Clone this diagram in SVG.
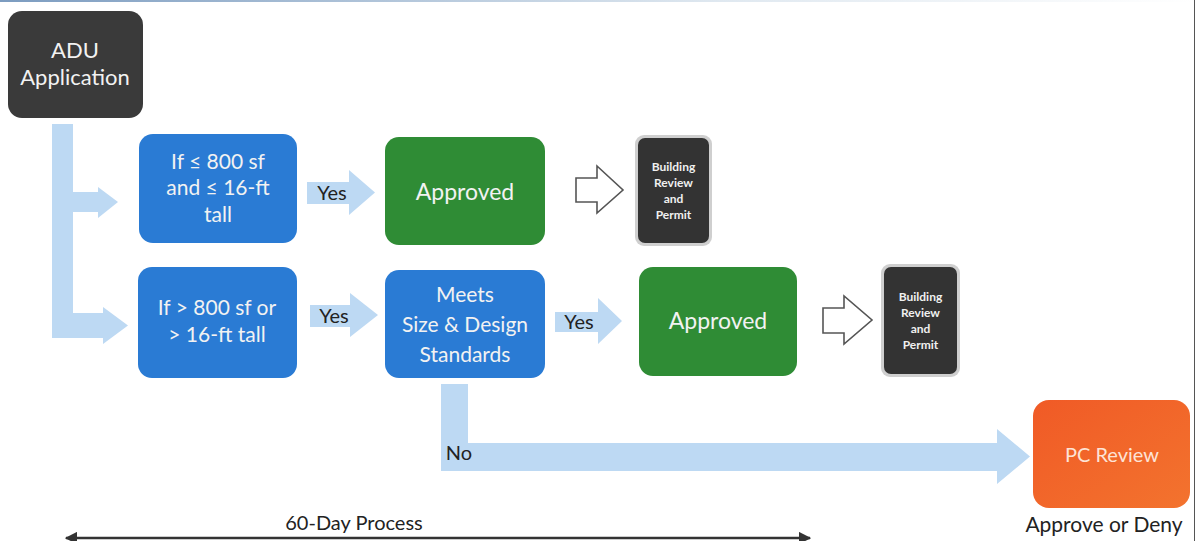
<svg xmlns="http://www.w3.org/2000/svg" width="1196" height="541" viewBox="0 0 1196 541">
<defs>
<style>
.t{font-family:Lato,"Open Sans","Noto Sans",sans-serif;text-anchor:middle}
.w{fill:#f2f2f2}
.k{fill:#222}
.conn{fill:#bdd9f3}
.out{fill:#fff;stroke:#555;stroke-width:1.6}
.blue{fill:#2a7bd4}
.green{fill:#2f8c35}
.bb{font-size:12px;font-weight:bold;fill:#f0f0f0}
</style>
<linearGradient id="og" x1="0" y1="0" x2="1" y2="1">
<stop offset="0" stop-color="#f05a26"/>
<stop offset="1" stop-color="#f3732e"/>
</linearGradient>
<linearGradient id="tg" x1="0" y1="0" x2="1" y2="0">
<stop offset="0" stop-color="#7c9cc0"/>
<stop offset="0.6" stop-color="#dfe8f0"/>
<stop offset="1" stop-color="#ffffff"/>
</linearGradient>
<marker id="ah" viewBox="0 0 10 10" refX="9" refY="5" markerWidth="5" markerHeight="5" orient="auto-start-reverse">
<path d="M0,0 L10,5 L0,10 Z" fill="#333"/>
</marker>
</defs>
<rect x="0" y="0" width="1196" height="541" fill="#fff"/>
<rect x="0" y="0" width="1196" height="2" fill="url(#tg)"/>
<line x1="1194.5" y1="0" x2="1194.5" y2="541" stroke="#555" stroke-width="1"/>

<g id="connectors">
<path class="conn" d="M52,124 H73 V192 H98 V187 L118,202 L98,218 V212 H73 V313 H103 V307 L128,325.5 L103,344 V338 H52 Z"/>
<path class="conn" d="M307,182 H349 V170 L375,192.5 L349,215 V204 H307 Z"/>
<path class="conn" d="M310,305 H350 V293 L378,315 L350,337 V327 H310 Z"/>
<path class="conn" d="M555,312 H598 V298 L622,321 L598,344 V332 H555 Z"/>
<path class="conn" d="M441,384 H468 V443 H997 V429 L1030,456.5 L997,484 V471 H441 Z"/>
<path class="out" d="M576,178 H597 V166 L623,190 L597,213 V202 H576 Z"/>
<path class="out" d="M823,308 H844 V296 L872,320 L844,344 V333 H823 Z"/>
<text class="t k" x="332" y="200" font-size="20">Yes</text>
<text class="t k" x="334" y="323" font-size="20">Yes</text>
<text class="t k" x="579" y="329" font-size="20">Yes</text>
<text class="t k" x="459" y="460" font-size="20">No</text>
</g>

<g id="adu">
<rect x="8" y="11" width="135" height="107" rx="14" fill="#3a3a3a"/>
<text class="t w" x="75" y="58" font-size="22">ADU</text>
<text class="t w" x="75" y="85" font-size="22">Application</text>
</g>

<g id="small">
<rect class="blue" x="139" y="134" width="158" height="109" rx="14"/>
<text class="t w" x="218" y="169" font-size="21">If ≤ 800 sf</text>
<text class="t w" x="218" y="195" font-size="21">and ≤ 16-ft</text>
<text class="t w" x="218" y="222" font-size="21">tall</text>
</g>

<g id="large">
<rect class="blue" x="138" y="267" width="159" height="111" rx="14"/>
<text class="t w" x="217" y="315" font-size="21">If &gt; 800 sf or</text>
<text class="t w" x="217" y="342" font-size="21">&gt; 16-ft tall</text>
</g>

<g id="approved1">
<rect class="green" x="385" y="137" width="160" height="108" rx="14"/>
<text class="t w" x="465" y="200" font-size="23">Approved</text>
</g>

<g id="meets">
<rect class="blue" x="385" y="270" width="160" height="108" rx="14"/>
<text class="t w" x="465" y="302" font-size="21">Meets</text>
<text class="t w" x="465" y="332" font-size="21">Size &amp; Design</text>
<text class="t w" x="465" y="362" font-size="21">Standards</text>
</g>

<g id="approved2">
<rect class="green" x="639" y="267" width="158" height="109" rx="14"/>
<text class="t w" x="718" y="329" font-size="23">Approved</text>
</g>

<g id="building1">
<rect x="635" y="135" width="77" height="111" rx="9" fill="#cfcfcf"/>
<rect x="638" y="138" width="71" height="105" rx="7" fill="#333"/>
<text class="t bb" x="673.5" y="171">Building</text>
<text class="t bb" x="673.5" y="187">Review</text>
<text class="t bb" x="673.5" y="203">and</text>
<text class="t bb" x="673.5" y="219">Permit</text>
</g>

<g id="building2">
<rect x="881" y="264" width="79" height="113" rx="9" fill="#cfcfcf"/>
<rect x="884" y="267" width="73" height="107" rx="7" fill="#333"/>
<text class="t bb" x="920.5" y="301">Building</text>
<text class="t bb" x="920.5" y="317">Review</text>
<text class="t bb" x="920.5" y="333">and</text>
<text class="t bb" x="920.5" y="349">Permit</text>
</g>

<g id="pc">
<rect x="1033" y="400" width="157" height="108" rx="16" fill="url(#og)"/>
<text class="t" x="1112" y="462" font-size="20" fill="#fde3d6">PC Review</text>
<text class="t k" x="1104" y="532" font-size="21">Approve or Deny</text>
</g>

<g id="timeline">
<line x1="66" y1="538" x2="810" y2="538" stroke="#333" stroke-width="2.5" marker-start="url(#ah)" marker-end="url(#ah)"/>
<text class="t k" x="354" y="530" font-size="20">60-Day Process</text>
</g>
</svg>
